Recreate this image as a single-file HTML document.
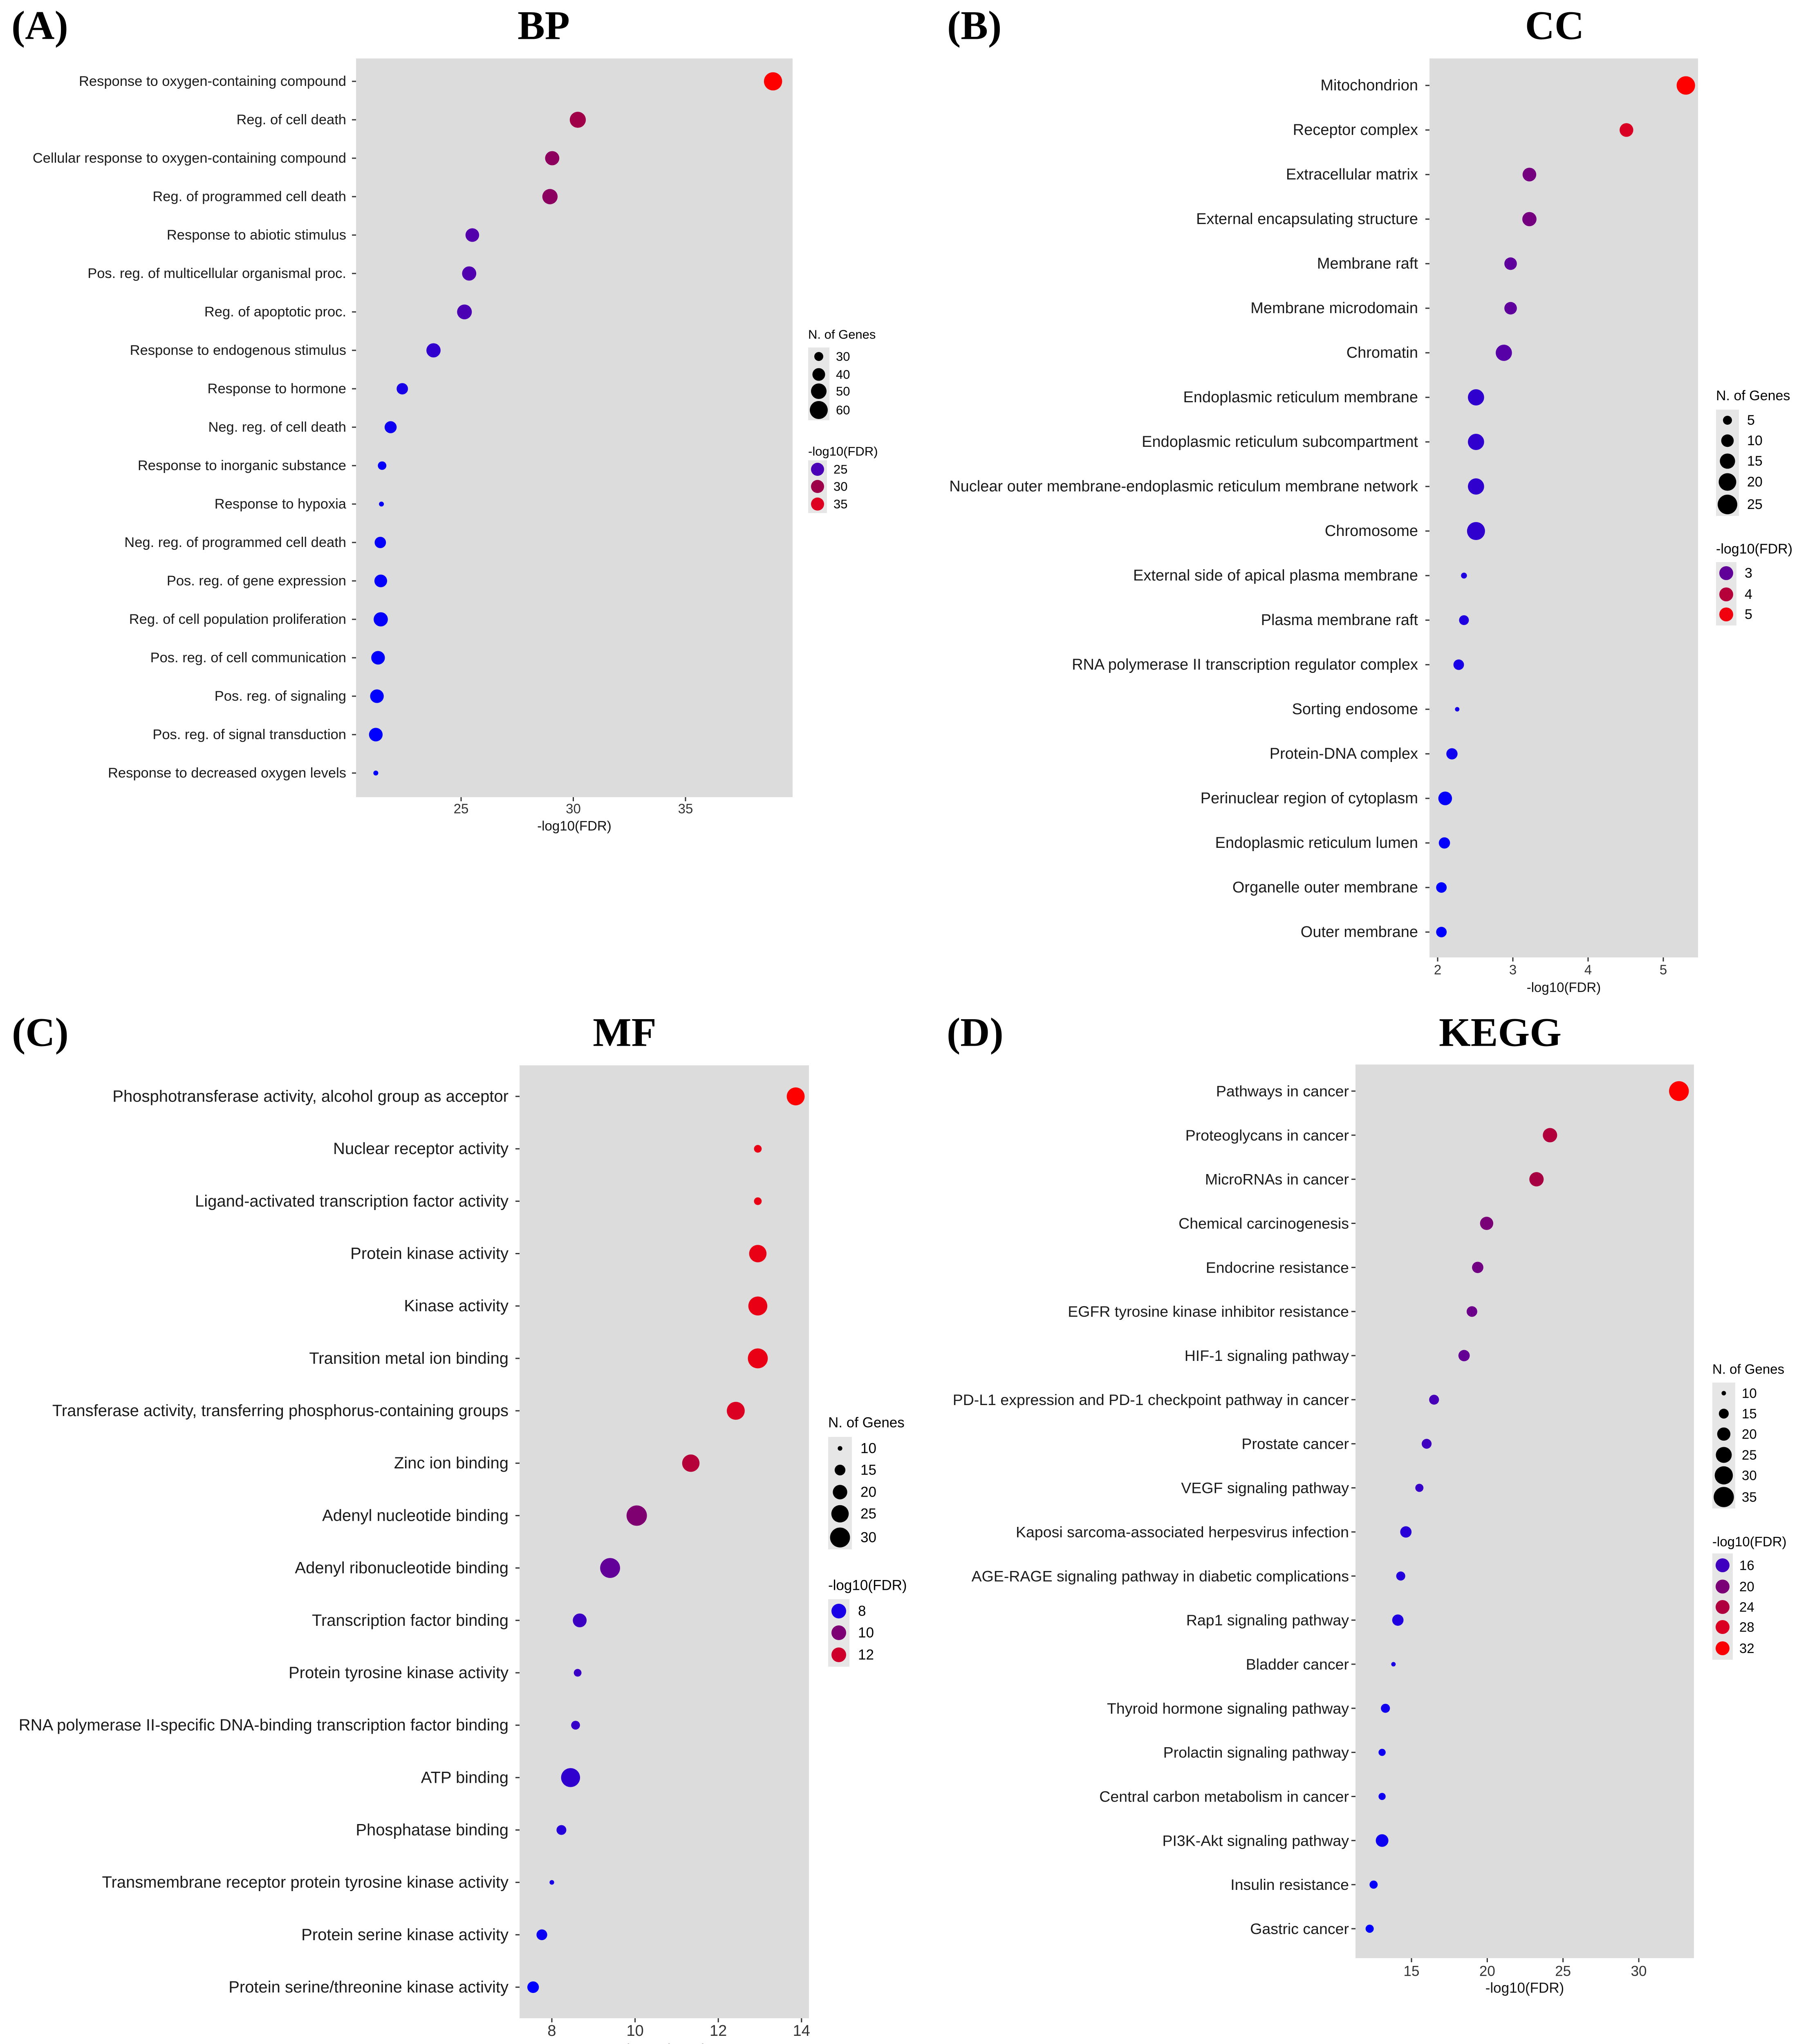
<!DOCTYPE html>
<html><head><meta charset="utf-8"><style>
html,body{margin:0;padding:0;background:#fff;overflow:hidden;width:4401px;height:5057px;}
svg{display:block;}
text{font-family:"Liberation Sans",sans-serif;}
.ttl{font-family:"Liberation Serif",serif;font-weight:bold;}
</style></head><body>
<svg id="fig" xmlns="http://www.w3.org/2000/svg" width="4401" height="5057" viewBox="0 0 4401 5057"></svg>
<script>
// ---- BP data ----
const bpTerms = ["Response to oxygen-containing compound","Reg. of cell death","Cellular response to oxygen-containing compound","Reg. of programmed cell death","Response to abiotic stimulus","Pos. reg. of multicellular organismal proc.","Reg. of apoptotic proc.","Response to endogenous stimulus","Response to hormone","Neg. reg. of cell death","Response to inorganic substance","Response to hypoxia","Neg. reg. of programmed cell death","Pos. reg. of gene expression","Reg. of cell population proliferation","Pos. reg. of cell communication","Pos. reg. of signaling","Pos. reg. of signal transduction","Response to decreased oxygen levels"];
const bpValues = [38.9,30.2,29.06,28.96,25.5,25.36,25.15,23.77,22.38,21.86,21.48,21.45,21.4,21.42,21.42,21.3,21.25,21.2,21.2];
const bpGenes = [61,52,45,49,43,45,47,45,36,38,29,23,36,40,45,43,43,43,23];
const bpTicks = [25,30,35];
const bpSizeBreaks = [30,40,50,60];
const bpColorBreaks = [25,30,35];
// ---- CC data ----
const ccTerms = ["Mitochondrion","Receptor complex","Extracellular matrix","External encapsulating structure","Membrane raft","Membrane microdomain","Chromatin","Endoplasmic reticulum membrane","Endoplasmic reticulum subcompartment","Nuclear outer membrane-endoplasmic reticulum membrane network","Chromosome","External side of apical plasma membrane","Plasma membrane raft","RNA polymerase II transcription regulator complex","Sorting endosome","Protein-DNA complex","Perinuclear region of cytoplasm","Endoplasmic reticulum lumen","Organelle outer membrane","Outer membrane"];
const ccValues = [5.30,4.51,3.22,3.22,2.97,2.97,2.88,2.51,2.51,2.51,2.51,2.35,2.35,2.28,2.26,2.19,2.10,2.09,2.05,2.05];
const ccGenes = [22,12,12,13,10,10,17,17,17,17,21,2,6,7,1,8,12,8,7,7];
const ccTicks = [2,3,4,5];
const ccSizeBreaks = [5,10,15,20,25];
const ccColorBreaks = [3,4,5];
// ---- MF data ----
const mfTerms = ["Phosphotransferase activity, alcohol group as acceptor","Nuclear receptor activity","Ligand-activated transcription factor activity","Protein kinase activity","Kinase activity","Transition metal ion binding","Transferase activity, transferring phosphorus-containing groups","Zinc ion binding","Adenyl nucleotide binding","Adenyl ribonucleotide binding","Transcription factor binding","Protein tyrosine kinase activity","RNA polymerase II-specific DNA-binding transcription factor binding","ATP binding","Phosphatase binding","Transmembrane receptor protein tyrosine kinase activity","Protein serine kinase activity","Protein serine/threonine kinase activity"];
const mfValues = [13.86,12.95,12.95,12.95,12.95,12.95,12.42,11.34,10.04,9.40,8.67,8.62,8.57,8.45,8.23,8.0,7.76,7.55];
const mfGenes = [26,12,12,25,28,30,26,25,31,30,19,12,13,28,14,10,15,16];
const mfTicks = [8,10,12,14];
const mfSizeBreaks = [10,15,20,25,30];
const mfColorBreaks = [8,10,12];
// ---- KEGG data ----
const kgTerms = ["Pathways in cancer","Proteoglycans in cancer","MicroRNAs in cancer","Chemical carcinogenesis","Endocrine resistance","EGFR tyrosine kinase inhibitor resistance","HIF-1 signaling pathway","PD-L1 expression and PD-1 checkpoint pathway in cancer","Prostate cancer","VEGF signaling pathway","Kaposi sarcoma-associated herpesvirus infection","AGE-RAGE signaling pathway in diabetic complications","Rap1 signaling pathway","Bladder cancer","Thyroid hormone signaling pathway","Prolactin signaling pathway","Central carbon metabolism in cancer","PI3K-Akt signaling pathway","Insulin resistance","Gastric cancer"];
const kgValues = [32.65,24.14,23.25,19.96,19.37,18.99,18.47,16.49,16.0,15.52,14.63,14.29,14.10,13.81,13.28,13.06,13.06,13.06,12.5,12.24];
const kgGenes = [34,22,22,20,17,16,17,15,15,13,17,14,17,10,14,12,12,19,13,13];
const kgTicks = [15,20,25,30];
const kgSizeBreaks = [10,15,20,25,30,35];
const kgColorBreaks = [16,20,24,28,32];

const NS = "http://www.w3.org/2000/svg";
const svg = document.getElementById('fig');
function mk(tag, attrs, parent, txt){
  const e = document.createElementNS(NS, tag);
  for (const k in attrs) e.setAttribute(k, attrs[k]);
  if (txt !== undefined) e.textContent = txt;
  (parent || svg).appendChild(e);
  return e;
}
const stops = [[0,[0,0,255]],[0.25,[85,0,170]],[0.5,[158,0,72]],[0.75,[216,0,37]],[1,[255,0,0]]];
function grad(t){
  t = Math.max(0, Math.min(1, t));
  for (let i=1;i<stops.length;i++){
    if (t <= stops[i][0]){
      const a=stops[i-1], b=stops[i], u=(t-a[0])/(b[0]-a[0]);
      const c=a[1].map((v,j)=>Math.round(v+(b[1][j]-v)*u));
      return 'rgb('+c.join(',')+')';
    }
  }
  return 'rgb(255,0,0)';
}

const panels = [
 {key:'bp', tag:'(A)', title:'BP', terms:bpTerms, values:bpValues, genes:bpGenes, ticks:bpTicks, sb:bpSizeBreaks, cb:bpColorBreaks,
  bg:[871,143,1939,1950], row0:199, rowN:1891, x0v:25, x0p:1128, ppu:54.9, labelRight:847, font:34.5, tfont:33,
  tickY:1978, axTitleY:2020, titleX:1330, titleY:62, tagX:28,
  sizeA:-242, sizeB:12.1, lf:31,
  leg:{x:1977, w:52, tY:818, sY:[872,916,957,1003], sBox:[850,1028], cTY:1104, cY:[1148,1190,1233], cBox:[1126,1255], lx:2045, cr:16}},
 {key:'cc', tag:'(B)', title:'CC', terms:ccTerms, values:ccValues, genes:ccGenes, ticks:ccTicks, sb:ccSizeBreaks, cb:ccColorBreaks,
  bg:[3497,143,4154,2342], row0:209, rowN:2280, x0v:2, x0p:3517, ppu:184, labelRight:3469, font:38, tfont:33,
  tickY:2372, axTitleY:2415, titleX:3803, titleY:62, tagX:2317,
  sizeA:7.25, sizeB:22.75, lf:34,
  leg:{x:4198, w:56, tY:968, sY:[1028,1078,1128,1179,1234], sBox:[1002,1262], cTY:1343, cY:[1402,1454,1503], cBox:[1375,1530], lx:4274, cr:17}},
 {key:'mf', tag:'(C)', title:'MF', terms:mfTerms, values:mfValues, genes:mfGenes, ticks:mfTicks, sb:mfSizeBreaks, cb:mfColorBreaks,
  bg:[1271,2606,1979,4937], row0:2682, rowN:4861, x0v:8, x0p:1350, ppu:101.8, labelRight:1244, font:40, tfont:38,
  tickY:4968, axTitleY:5015, titleX:1528, titleY:2525, tagX:29,
  sizeA:-248.7, sizeB:28.1, lf:35,
  leg:{x:2026, w:58, tY:3480, sY:[3543,3596,3650,3703,3761], sBox:[3515,3790], cTY:3878, cY:[3941,3994,4048], cBox:[3912,4077], lx:2105, cr:18}},
 {key:'kegg', tag:'(D)', title:'KEGG', terms:kgTerms, values:kgValues, genes:kgGenes, ticks:kgTicks, sb:kgSizeBreaks, cb:kgColorBreaks,
  bg:[3316,2604,4144,4790], row0:2669, rowN:4718, x0v:15, x0p:3453, ppu:37.07, labelRight:3300, font:37.5, tfont:35,
  tickY:4822, axTitleY:4863, titleX:3670, titleY:2525, tagX:2316,
  sizeA:-202, sizeB:23.2, lf:33,
  leg:{x:4189, w:56, tY:3349, sY:[3408,3458,3508,3559,3609,3662], sBox:[3382,3690], cTY:3771, cY:[3829,3881,3931,3980,4032], cBox:[3800,4060], lx:4261, cr:17}}
];

panels.forEach(p => {
  const g = mk('g', {});
  
  
  const xs = v => p.x0p + (v - p.x0v) * p.ppu;
  const n = p.terms.length;
  const ys = i => p.row0 + i * (p.rowN - p.row0) / (n - 1);
  const rs = k => Math.sqrt(Math.max(20, p.sizeA + p.sizeB * k));
  const vmin = Math.min(...p.values), vmax = Math.max(...p.values);
  const col = v => grad((v - vmin) / (vmax - vmin));

  const tg = mk('text', {x:p.tagX, y:p.titleY, class:'ttl', 'font-size':100, 'dominant-baseline':'central'}, g, p.tag);
  
  
  const tt = mk('text', {x:p.titleX, y:p.titleY, class:'ttl', 'font-size':100, 'text-anchor':'middle', 'dominant-baseline':'central'}, g, p.title);
  
  

  const bg = mk('rect', {x:p.bg[0], y:p.bg[1], width:p.bg[2]-p.bg[0], height:p.bg[3]-p.bg[1], fill:'#dcdcdc'}, g);
  
  

  p.terms.forEach((t, i) => {
    const y = ys(i);
    const lb = mk('text', {x:p.labelRight, y:y, 'font-size':p.font, 'text-anchor':'end', 'dominant-baseline':'central', fill:'#1a1a1a'}, g, t);
    
    
    mk('line', {x1:p.bg[0]-10, x2:p.bg[0], y1:y, y2:y, stroke:'#333', 'stroke-width':3}, g);
  });
  p.ticks.forEach(v => {
    const x = xs(v);
    mk('line', {x1:x, x2:x, y1:p.bg[3], y2:p.bg[3]+10, stroke:'#333', 'stroke-width':3}, g);
    const tl = mk('text', {x:x, y:p.tickY, 'font-size':p.tfont, 'text-anchor':'middle', 'dominant-baseline':'central', fill:'#333'}, g, String(v));
    
    
  });
  const at = mk('text', {x:(p.bg[0]+p.bg[2])/2, y:p.axTitleY, 'font-size':p.tfont, 'text-anchor':'middle', 'dominant-baseline':'central', fill:'#111'}, g, '-log10(FDR)');
  
  

  p.values.forEach((v, i) => {
    const c = mk('circle', {cx:xs(v), cy:ys(i), r:rs(p.genes[i]), fill:col(v)}, g);
    
    
  });

  const L = p.leg;
  const lf = p.lf;
  const st = mk('text', {x:L.x, y:L.tY, 'font-size':lf, 'dominant-baseline':'central'}, g, 'N. of Genes');
  
  
  mk('rect', {x:L.x, y:L.sBox[0], width:L.w, height:L.sBox[1]-L.sBox[0], fill:'#e6e6e6'}, g);
  p.sb.forEach((b, i) => {
    const e = mk('circle', {cx:L.x+L.w/2, cy:L.sY[i], r:rs(b), fill:'#000'}, g);
    
    
    mk('text', {x:L.lx, y:L.sY[i], 'font-size':lf, 'dominant-baseline':'central'}, g, String(b));
  });
  const ct = mk('text', {x:L.x, y:L.cTY, 'font-size':lf, 'dominant-baseline':'central'}, g, '-log10(FDR)');
  
  
  mk('rect', {x:L.x, y:L.cBox[0], width:L.w-6, height:L.cBox[1]-L.cBox[0], fill:'#e6e6e6'}, g);
  p.cb.forEach((b, i) => {
    const e = mk('circle', {cx:L.x+(L.w-6)/2, cy:L.cY[i], r:L.cr, fill:col(b)}, g);
    
    
    mk('text', {x:L.lx-6, y:L.cY[i], 'font-size':lf, 'dominant-baseline':'central'}, g, String(b));
  });
});
</script>
</body></html>
